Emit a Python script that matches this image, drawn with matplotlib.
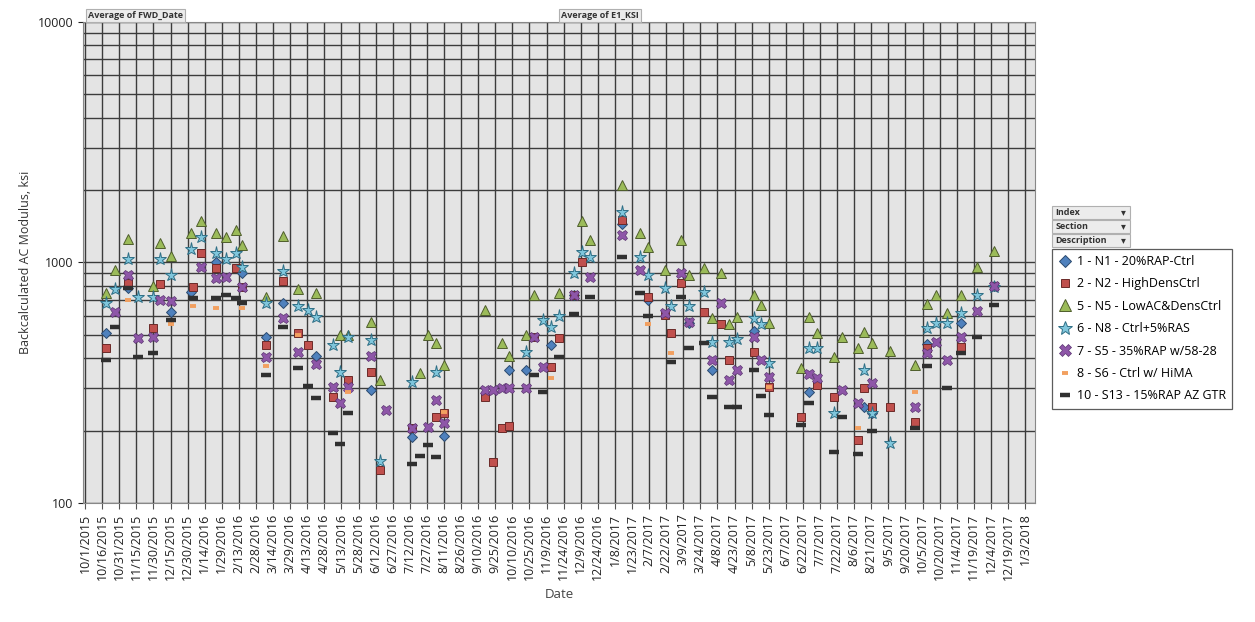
import pandas as pd
import numpy as np
import matplotlib
matplotlib.use('Agg')
import matplotlib.pyplot as plt
from matplotlib.ticker import LogLocator, NullFormatter, FixedLocator

plt.rcParams['font.family'] = ['Open Sans', 'DejaVu Sans']

# ---- data (ksi) ----
n1_dates = ['2015-10-19', '2015-11-08', '2015-12-15', '2016-01-02', '2016-01-24', '2016-02-16',
            '2016-03-08', '2016-03-23', '2016-04-21', '2016-06-08', '2016-07-14', '2016-08-11',
            '2016-10-07', '2016-10-22', '2016-11-13', '2016-12-03', '2017-01-14', '2017-02-06',
            '2017-03-14', '2017-04-03', '2017-05-10', '2017-06-27', '2017-08-15', '2017-08-22',
            '2017-10-09', '2017-11-08', '2017-12-07']
n1_vals = [510, 780, 620, 755, 1000, 900,
           490, 680, 410, 296, 188, 190,
           358, 358, 455, 735, 1450, 700,
           560, 358, 520, 290, 250, 237,
           460, 560, 800]

n2_dates = ['2015-10-19', '2015-11-08', '2015-11-30', '2015-12-06', '2016-01-04', '2016-01-11',
            '2016-01-24', '2016-02-10', '2016-02-16', '2016-03-08', '2016-03-23', '2016-04-05',
            '2016-04-14', '2016-05-06', '2016-05-19', '2016-06-08', '2016-06-16', '2016-07-14',
            '2016-08-04', '2016-08-11', '2016-09-16', '2016-09-23', '2016-10-01', '2016-10-07',
            '2016-10-29', '2016-11-13', '2016-11-20', '2016-12-03', '2016-12-10', '2017-01-14',
            '2017-02-06', '2017-02-21', '2017-02-26', '2017-03-07', '2017-03-27', '2017-04-11',
            '2017-04-18', '2017-05-10', '2017-05-23', '2017-06-20', '2017-07-04', '2017-07-19',
            '2017-08-09', '2017-08-15', '2017-08-22', '2017-09-06', '2017-09-28', '2017-10-09',
            '2017-11-08', '2017-12-07']
n2_vals = [442, 820, 535, 815, 790, 1090,
           950, 950, 790, 455, 837, 510,
           455, 275, 325, 350, 137, 205,
           227, 237, 275, 148, 205, 210,
           490, 367, 485, 735, 1000, 1500,
           718, 605, 510, 820, 620, 555,
           393, 425, 303, 227, 310, 275,
           183, 300, 250, 250, 218, 440,
           445, 800]

n5_dates = ['2015-10-19', '2015-10-27', '2015-11-08', '2015-11-30', '2015-12-06', '2015-12-15',
            '2016-01-02', '2016-01-11', '2016-01-24', '2016-02-02', '2016-02-10', '2016-02-16',
            '2016-03-08', '2016-03-23', '2016-04-05', '2016-04-21', '2016-05-12', '2016-05-19',
            '2016-06-08', '2016-06-16', '2016-07-21', '2016-07-28', '2016-08-04', '2016-08-11',
            '2016-09-16', '2016-10-01', '2016-10-07', '2016-10-22', '2016-10-29', '2016-11-20',
            '2016-12-10', '2016-12-17', '2017-01-14', '2017-01-30', '2017-02-06', '2017-02-21',
            '2017-03-07', '2017-03-14', '2017-03-27', '2017-04-03', '2017-04-11', '2017-04-18',
            '2017-04-25', '2017-05-10', '2017-05-16', '2017-05-23', '2017-06-20', '2017-06-27',
            '2017-07-04', '2017-07-19', '2017-07-26', '2017-08-09', '2017-08-15', '2017-08-22',
            '2017-09-06', '2017-09-28', '2017-10-09', '2017-10-17', '2017-10-26', '2017-11-08',
            '2017-11-22', '2017-12-07']
n5_vals = [750, 930, 1250, 800, 1200, 1060,
           1320, 1480, 1330, 1270, 1370, 1180,
           720, 1290, 774, 750, 500, 500,
           565, 325, 346, 500, 464, 375,
           635, 464, 410, 500, 735, 750,
           1480, 1240, 2100, 1330, 1160, 930,
           1240, 885, 950, 590, 905, 555,
           595, 735, 665, 560, 363, 595,
           510, 405, 490, 440, 515, 464,
           430, 375, 675, 735, 615, 735,
           960, 1120]

n8_dates = ['2015-10-19', '2015-10-27', '2015-11-08', '2015-11-16', '2015-11-30', '2015-12-06',
            '2015-12-15', '2016-01-02', '2016-01-11', '2016-01-24', '2016-02-02', '2016-02-10',
            '2016-02-16', '2016-03-08', '2016-03-23', '2016-04-05', '2016-04-14', '2016-04-21',
            '2016-05-06', '2016-05-12', '2016-05-19', '2016-06-08', '2016-06-16', '2016-07-14',
            '2016-08-04', '2016-10-22', '2016-11-06', '2016-11-13', '2016-11-20', '2016-12-03',
            '2016-12-10', '2016-12-17', '2017-01-14', '2017-01-30', '2017-02-06', '2017-02-21',
            '2017-02-26', '2017-03-14', '2017-03-27', '2017-04-03', '2017-04-18', '2017-04-25',
            '2017-05-10', '2017-05-16', '2017-05-23', '2017-06-27', '2017-07-04', '2017-07-19',
            '2017-08-15', '2017-08-22', '2017-09-06', '2017-10-09', '2017-10-17', '2017-10-26',
            '2017-11-08', '2017-11-22', '2017-12-07']
n8_vals = [680, 773, 1035, 720, 720, 1030,
           885, 1140, 1270, 1090, 1030, 1100,
           960, 680, 923, 660, 634, 595,
           455, 350, 490, 476, 150, 320,
           350, 425, 577, 540, 600, 905,
           1110, 1055, 1620, 1055, 885, 780,
           660, 660, 755, 467, 467, 480,
           590, 555, 383, 440, 440, 237,
           358, 237, 178, 535, 560, 560,
           615, 735, 790]

s5_dates = ['2015-10-27', '2015-11-08', '2015-11-16', '2015-11-30', '2015-12-06', '2015-12-15',
            '2016-01-11', '2016-01-24', '2016-02-02', '2016-02-16', '2016-03-08', '2016-03-23',
            '2016-04-05', '2016-04-21', '2016-05-06', '2016-05-12', '2016-05-19', '2016-06-08',
            '2016-06-21', '2016-07-14', '2016-07-28', '2016-08-04', '2016-08-11', '2016-09-16',
            '2016-09-23', '2016-10-01', '2016-10-07', '2016-10-22', '2016-10-29', '2016-11-06',
            '2016-12-03', '2016-12-17', '2017-01-14', '2017-01-30', '2017-02-21', '2017-03-07',
            '2017-03-14', '2017-04-03', '2017-04-11', '2017-04-18', '2017-04-25', '2017-05-10',
            '2017-05-16', '2017-05-23', '2017-06-27', '2017-07-04', '2017-07-26', '2017-08-09',
            '2017-08-22', '2017-09-28', '2017-10-09', '2017-10-17', '2017-10-26', '2017-11-08',
            '2017-11-22', '2017-12-07']
s5_vals = [620, 885, 485, 490, 700, 690,
           960, 860, 870, 790, 405, 590,
           425, 380, 303, 260, 303, 410,
           245, 205, 207, 268, 215, 296,
           296, 300, 300, 300, 490, 367,
           735, 870, 1300, 930, 615, 905,
           565, 393, 680, 325, 358, 490,
           393, 333, 345, 330, 296, 260,
           315, 250, 420, 467, 393, 490,
           630, 800]

s6_dates = ['2015-11-08', '2015-12-15', '2016-01-04', '2016-01-24', '2016-02-16', '2016-03-08',
            '2016-04-05', '2016-05-19', '2016-08-11', '2016-11-13', '2017-02-06', '2017-02-26',
            '2017-05-23', '2017-08-09', '2017-09-28']
s6_vals = [700, 555, 660, 650, 650, 370,
           500, 290, 240, 330, 555, 420,
           303, 205, 290]

s13_dates = ['2015-10-19', '2015-10-27', '2015-11-08', '2015-11-16', '2015-11-30', '2015-12-15',
             '2016-01-04', '2016-01-24', '2016-02-02', '2016-02-10', '2016-02-16', '2016-03-08',
             '2016-03-23', '2016-04-05', '2016-04-14', '2016-04-21', '2016-05-06', '2016-05-12',
             '2016-05-19', '2016-07-14', '2016-07-21', '2016-07-28', '2016-08-04', '2016-10-29',
             '2016-11-06', '2016-11-20', '2016-12-03', '2016-12-17', '2017-01-14', '2017-01-30',
             '2017-02-06', '2017-02-26', '2017-03-07', '2017-03-14', '2017-03-27', '2017-04-03',
             '2017-04-18', '2017-04-25', '2017-05-10', '2017-05-16', '2017-05-23', '2017-06-20',
             '2017-06-27', '2017-07-19', '2017-07-26', '2017-08-09', '2017-08-22', '2017-09-28',
             '2017-10-09', '2017-10-26', '2017-11-08', '2017-11-22', '2017-12-07']
s13_vals = [393, 540, 785, 405, 420, 577,
            710, 710, 735, 710, 680, 340,
            540, 363, 306, 273, 195, 177,
            237, 146, 157, 175, 155, 340,
            290, 405, 610, 718, 1055, 750,
            600, 385, 718, 440, 462, 275,
            250, 252, 358, 280, 233, 212,
            260, 163, 227, 160, 199, 205,
            370, 300, 420, 490, 665]

labels = ['1 - N1 - 20%RAP-Ctrl', '2 - N2 - HighDensCtrl', '5 - N5 - LowAC&DensCtrl',
          '6 - N8 - Ctrl+5%RAS', '7 - S5 - 35%RAP w/58-28', '8 - S6 - Ctrl w/ HiMA',
          '10 - S13 - 15%RAP AZ GTR']

tick_dates = pd.date_range('2015-10-01', '2018-01-03', freq='15D')

# ---- styles ----
styles = [
    dict(marker='D', ms=5.5, mfc='#4f81bd', mec='#2b4a6f', mew=0.7),
    dict(marker='s', ms=5.5, mfc='#c0504d', mec='#6b2a28', mew=0.7),
    dict(marker='^', ms=7.5, mfc='#9bbb59', mec='#4f5e2c', mew=0.7),
    dict(marker='*', ms=9.5, mfc='#7fc6dc', mec='#2f6f86', mew=0.7),
    dict(marker='X', ms=7.5, mfc='#8e56a8', mec='#5a3470', mew=0.5),
    dict(marker='_', ms=4.5, mfc='#f79646', mec='#f2a060', mew=2.8),
    dict(marker='_', ms=7, mfc='#303030', mec='#303030', mew=3.2),
]
all_data = [(n1_dates, n1_vals), (n2_dates, n2_vals), (n5_dates, n5_vals), (n8_dates, n8_vals),
            (s5_dates, s5_vals), (s6_dates, s6_vals), (s13_dates, s13_vals)]

fig = plt.figure(figsize=(12.55, 6.22), dpi=100)
ax = fig.add_axes([0.066, 0.191, 0.759, 0.774])
ax.set_facecolor('#e4e4e4')

for (d, v), lab, st in zip(all_data, labels, styles):
    ax.plot(pd.to_datetime(d), v, linestyle='none', label=lab, zorder=3, **st)

ax.set_yscale('log')
ax.set_ylim(100, 10000)
ax.yaxis.set_major_locator(FixedLocator([100, 1000, 10000]))
ax.yaxis.set_major_formatter(plt.FuncFormatter(lambda v, p: '%d' % v))
ax.yaxis.set_minor_locator(LogLocator(base=10, subs=np.arange(2, 10)))
ax.yaxis.set_minor_formatter(NullFormatter())

ax.set_xlim(pd.Timestamp('2015-09-29'), pd.Timestamp('2018-01-12'))
ax.set_xticks(tick_dates)
ax.set_xticklabels(['%d/%d/%d' % (t.month, t.day, t.year) for t in tick_dates],
                   rotation=90, fontsize=9, color='#222222')
ax.tick_params(axis='y', labelsize=9, colors='#222222', which='both')
ax.tick_params(axis='y', which='minor', length=0)
ax.tick_params(axis='x', length=4, color='#555555')

ax.grid(True, axis='x', color='#3c3c3c', lw=1.0, zorder=1)
ax.grid(True, axis='y', which='both', color='#3c3c3c', lw=1.0, zorder=1)
ax.set_axisbelow(True)
for s in ax.spines.values():
    s.set_color('#888888')

ax.set_ylabel('Backcalculated AC Modulus, ksi', fontsize=9, color='#333333')
ax.set_xlabel('Date', fontsize=9.5, color='#444444', labelpad=6)

# pivot field buttons
btn = dict(boxstyle='square,pad=0.25', fc='#ececec', ec='#b0b0b0', lw=0.8)
fig.text(0.070, 0.975, 'Average of FWD_Date', fontsize=6.5, fontweight='bold', color='#333333',
         va='center', bbox=btn)
fig.text(0.447, 0.975, 'Average of E1_KSI', fontsize=6.5, fontweight='bold', color='#333333',
         va='center', bbox=btn)
for i, name in enumerate(['Index', 'Section', 'Description']):
    y = 0.658 - i * 0.0225
    fig.text(0.841, y, name, fontsize=6.5, fontweight='bold', color='#333333', va='center')
    fig.text(0.893, y, '\u25BE', fontsize=7, color='#333333', va='center')
    fig.patches.append(plt.Rectangle((0.838, y - 0.0105), 0.062, 0.021, transform=fig.transFigure,
                                     fc='#ececec', ec='#b0b0b0', lw=0.8, zorder=0))

leg = ax.legend(loc='upper left', bbox_to_anchor=(0.838, 0.600), bbox_transform=fig.transFigure,
                fontsize=9, frameon=True, fancybox=False, edgecolor='#333333',
                handletextpad=0.3, handlelength=1.2, borderpad=0.5, labelspacing=0.75,
                borderaxespad=0, markerscale=1.1)
leg.get_frame().set_linewidth(0.9)

fig.savefig('out.png', dpi=100)
